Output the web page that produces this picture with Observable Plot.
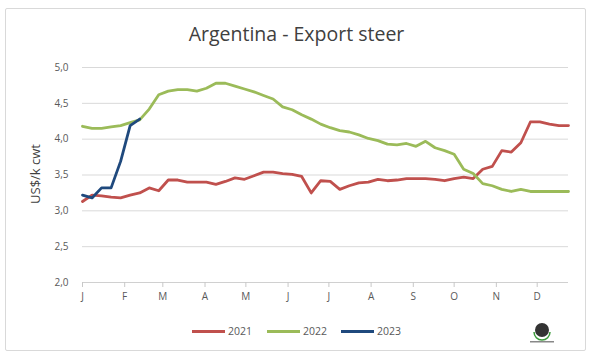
<!DOCTYPE html>
<html><head><meta charset="utf-8">
<script src="https://cdn.jsdelivr.net/npm/d3@7"></script>
<script src="https://cdn.jsdelivr.net/npm/@observablehq/plot@0.6"></script>
<style>
body{margin:0;background:#fff;font-family:"Open Sans",sans-serif;}
#wrap{position:relative;width:593px;height:361px;overflow:hidden;background:#fff;}
#frame{position:absolute;left:5px;top:8px;width:581px;height:343px;border:1px solid #d9d9d9;border-radius:2px;box-sizing:border-box;}
#title{position:absolute;left:0;width:593px;top:20px;text-align:center;font-size:19.5px;color:#404040;}
#chart{position:absolute;left:0;top:0;}
#ytitle{position:absolute;left:35px;top:174px;transform:translate(-50%,-50%) rotate(-90deg);font-size:13px;color:#404040;white-space:nowrap;}
.leg{position:absolute;top:324px;font-size:10.5px;color:#595959;display:flex;align-items:center;}
.leg span.sw{display:inline-block;width:33px;height:3px;margin-right:3px;}
#logo{position:absolute;left:524px;top:318px;}
</style>
</head><body>
<div id="wrap">
  <div id="frame"></div>
  <div id="title">Argentina - Export steer</div>
  <div id="chart"></div>
  <div id="ytitle">US$/k cwt</div>
  <div id="legend"></div>
  <svg id="logo" width="36" height="30">
    <circle cx="18" cy="12" r="7" fill="#333"/>
    <path d="M10 14 A8 8 0 0 0 26 14" fill="none" stroke="#3a9a3a" stroke-width="1.5"/>
    <rect x="6" y="23" width="24" height="1.5" fill="#888"/>
  </svg>
</div>
<script>
const series = ["2021", "2022", "2023"];
const colors = ["#C0504D", "#9BBB59", "#1F497D"];
const monthLabels = ["J","F","M","A","M","J","J","A","S","O","N","D"];
const monthStartDays = [0,31,59,90,120,151,181,212,243,273,304,334];
const yTicks = [2.0,2.5,3.0,3.5,4.0,4.5,5.0];
// weekly values (week index 0..51)
const v2021 = [3.13,3.22,3.21,3.19,3.18,3.22,3.25,3.32,3.28,3.43,3.43,3.40,3.40,3.40,3.37,3.41,3.46,3.44,3.49,3.54,3.54,3.52,3.51,3.48,3.25,3.42,3.41,3.30,3.35,3.39,3.40,3.44,3.42,3.43,3.45,3.45,3.45,3.44,3.42,3.45,3.47,3.45,3.58,3.62,3.84,3.82,3.95,4.24,4.24,4.21,4.19,4.19];
const v2022 = [4.18,4.15,4.15,4.17,4.19,4.23,4.27,4.42,4.62,4.67,4.69,4.69,4.67,4.71,4.78,4.78,4.74,4.70,4.66,4.61,4.56,4.45,4.41,4.34,4.28,4.21,4.16,4.12,4.10,4.06,4.01,3.98,3.93,3.92,3.94,3.90,3.97,3.88,3.84,3.79,3.58,3.52,3.38,3.35,3.30,3.27,3.30,3.27,3.27,3.27,3.27,3.27];
const v2023 = [3.22,3.18,3.32,3.32,3.69,4.19,4.28];

const rows = [];
[v2021, v2022, v2023].forEach((vals, s) => vals.forEach((v, i) => rows.push({series: series[s], day: i * 7, value: v})));

const chart = Plot.plot({
  width: 593, height: 310,
  marginLeft: 82, marginRight: 25, marginTop: 67, marginBottom: 28,
  style: {fontFamily: "Open Sans, sans-serif", fontSize: "10px", color: "#595959", background: "transparent"},
  x: {domain: [0, 357]},
  y: {domain: [2, 5]},
  color: {domain: series, range: colors},
  marks: [
    Plot.gridY(yTicks, {stroke: "#d9d9d9", strokeOpacity: 1, strokeWidth: 1}),
    Plot.axisY(yTicks, {tickSize: 0, tickPadding: 14, tickFormat: d => d.toFixed(1).replace(".", ","), label: null}),
    Plot.ruleY([2], {stroke: "#d0d0d0"}),
    Plot.axisX(monthStartDays, {tickSize: 5, text: null, stroke: "#c8c8c8", label: null}),
    Plot.axisX(monthStartDays, {tickSize: 0, tickPadding: 10, tickFormat: (d, i) => monthLabels[i], label: null}),
    Plot.line(rows, {x: "day", y: "value", z: "series", stroke: "series", strokeWidth: 2.8, strokeLinejoin: "round"})
  ]
});
document.getElementById("chart").appendChild(chart);

const legendX = [192, 267, 341];
const leg = document.getElementById("legend");
series.forEach((s, i) => {
  const d = document.createElement("div");
  d.className = "leg";
  d.style.left = legendX[i] + "px";
  d.innerHTML = `<span class="sw" style="background:${colors[i]}"></span>${s}`;
  leg.appendChild(d);
});
</script>
</body></html>
